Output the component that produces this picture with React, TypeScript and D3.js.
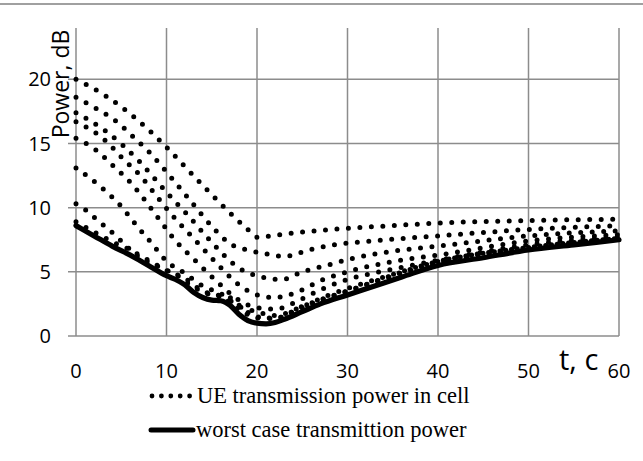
import React from 'react';
import * as d3 from 'd3';

// UE transmission power curves, [t, dB]
const ue1 = [[0, 20], [3.3, 18.7], [6.7, 16.9], [9.6, 15.0], [12.3, 13.0], [16, 10.3], [18.9, 8.35], [20, 7.7], [22, 7.85], [25, 8.1], [30, 8.4], [35, 8.6], [40, 8.8], [50, 9.0], [60, 9.1]];
const ue2 = [[0, 18.6], [2.3, 17.7], [4.5, 16.7], [6.5, 15.4], [8.4, 14.1], [10.1, 12.7], [12.7, 10.5], [15.2, 8.4], [17, 7.2], [19, 6.7], [21, 6.4], [23, 6.2], [25.7, 6.7], [28.4, 7.1], [31, 7.3], [40, 7.8], [50, 8.3], [60, 8.6]];
const ue3 = [[0, 17.4], [3.4, 15.9], [7, 13.6], [10, 11.2], [12.5, 9.3], [15, 7.3], [18, 5.3], [20.5, 4.6], [22.7, 4.4], [25, 5.0], [27.7, 5.5], [30.3, 6.0], [35, 6.6], [40, 7.0], [50, 7.8], [60, 8.2]];
const ue4 = [[0, 16.7], [3.3, 15.2], [5.2, 13.8], [7.1, 12.5], [8.8, 11.0], [10.4, 9.6], [13, 7.6], [15.5, 5.7], [18, 4.0], [20, 3.2], [22, 3.0], [25, 3.6], [27, 4.3], [30, 5.0], [35, 5.8], [40, 6.3], [50, 7.4], [60, 7.9]];
const ue5 = [[0, 15.4], [2.2, 14.5], [4.2, 13.2], [6.1, 11.9], [7.7, 10.5], [9.4, 8.9], [10.9, 7.5], [13, 6.0], [15.5, 4.3], [18, 2.8], [20, 2.2], [22, 2.1], [25, 2.9], [27, 3.6], [30, 4.4], [35, 5.2], [40, 5.9], [50, 7.1], [60, 7.7]];
const ue6 = [[0, 13.1], [3.1, 11.4], [5, 10.1], [6.7, 8.6], [8.4, 7.2], [9.9, 5.9], [12, 4.9], [14, 3.9], [16, 3.3], [18, 2.3], [19.4, 2.0], [22, 1.6], [25, 2.3], [28, 3.2], [30, 3.7], [35, 4.8], [40, 5.8], [50, 6.9], [60, 7.6]];
const ue7 = [[0, 10.3], [1.1, 9.8], [2.1, 9.2], [3.1, 8.6], [4.1, 8.0], [5, 7.4], [5.9, 6.8], [6.7, 6.3], [7.5, 5.9], [8.3, 5.7], [9.4, 5.3], [11, 4.8], [13, 3.8], [15, 3.2], [17, 3.0], [18.5, 2.1], [20, 1.5], [22, 1.35], [24, 1.9], [27, 2.8], [30, 3.5], [35, 4.7], [40, 5.7], [50, 6.8], [60, 7.55]];
const ue8 = [[0, 8.9], [2, 8.1], [4, 7.35], [6, 6.7], [8, 5.9], [10, 5.1], [12, 4.5], [14, 3.5], [16, 3.1], [18, 2.1], [20, 1.4], [22, 1.4], [25, 2.3], [30, 3.5], [40, 5.8], [50, 6.9], [60, 7.6]];
const ueSeries = [ue1, ue2, ue3, ue4, ue5, ue6, ue7, ue8];

// worst case transmission power
const worstCase = [[0, 8.6], [2, 7.8], [4, 7.0], [6, 6.3], [8, 5.5], [10, 4.7], [11, 4.4], [12, 4.0], [13, 3.4], [14, 3.0], [15, 2.8], [16, 2.75], [17, 2.4], [18, 1.7], [19, 1.2], [20, 1.0], [21, 0.95], [22, 1.05], [23, 1.3], [25, 1.9], [27, 2.5], [30, 3.2], [33, 3.9], [36, 4.6], [40, 5.5], [45, 6.1], [50, 6.7], [55, 7.1], [60, 7.5]];

const xTicks = [0, 10, 20, 30, 40, 50, 60];
const yTicks = [0, 5, 10, 15, 20];
const legendLabels = ['UE transmission power in cell', 'worst case transmittion power'];

export default function App() {
  const width = 643;
  const height = 461;

  const x = d3.scaleLinear().domain([0, 60]).range([76, 619]);
  const y = d3.scaleLinear().domain([0, 24]).range([336, 28]);

  const line = d3.line<number[]>()
    .x(d => x(d[0]))
    .y(d => y(d[1]))
    .curve(d3.curveMonotoneX);

  const sans = '"Open Sans", sans-serif';
  const serif = '"Liberation Serif", "Times New Roman", serif';

  return (
    <svg width={width} height={height} style={{ position: 'absolute', left: 0, top: 0, background: '#fff' }}>
      <line x1={0} x2={width} y1={4} y2={4} stroke="#808080" strokeWidth={1.5} />

      <g key="grid" stroke="#8c8c8c" strokeWidth={1.5}>
        {yTicks.map(t => (
          <line key={`h-${t}`} x1={68} x2={x(60)} y1={y(t)} y2={y(t)} />
        ))}
        {xTicks.map(t => (
          <line key={`v-${t}`} x1={x(t)} x2={x(t)} y1={y(24)} y2={y(0)} />
        ))}
      </g>

      <g key="ue" fill="none" stroke="#000" strokeWidth={5} strokeLinecap="round" strokeDasharray="0 11.5">
        {ueSeries.map((s, i) => (
          <path key={`ue-${i}`} d={line(s) || ''} />
        ))}
      </g>
      <path d={line(worstCase) || ''} fill="none" stroke="#000" strokeWidth={5.2} strokeLinejoin="round" strokeLinecap="round" />

      <g key="y-ticks" style={{ font: `20px ${sans}` }} textAnchor="end" fill="#000">
        {yTicks.map(t => (
          <text key={`yt-${t}`} x={51} y={y(t) + 7}>{t}</text>
        ))}
      </g>
      <g key="x-ticks" style={{ font: `20px ${sans}` }} textAnchor="middle" fill="#000">
        {xTicks.map(t => (
          <text key={`xt-${t}`} x={x(t)} y={378}>{t}</text>
        ))}
      </g>

      <text transform="translate(69,84) rotate(-90)" textAnchor="middle" style={{ font: `23px ${sans}` }}>Power, dB</text>
      <text x={559} y={370} style={{ font: `29px ${sans}` }}>t, c</text>

      <g key="legend">
        <line x1={152} x2={190} y1={396} y2={396} stroke="#000" strokeWidth={4.8} strokeLinecap="round" strokeDasharray="0 9.4" />
        <text x={197} y={403} style={{ font: `22.5px ${serif}` }}>{legendLabels[0]}</text>
        <line x1={151} x2={193} y1={430} y2={430} stroke="#000" strokeWidth={5} strokeLinecap="round" />
        <text x={196} y={437} style={{ font: `22.5px ${serif}` }}>{legendLabels[1]}</text>
      </g>
    </svg>
  );
}
